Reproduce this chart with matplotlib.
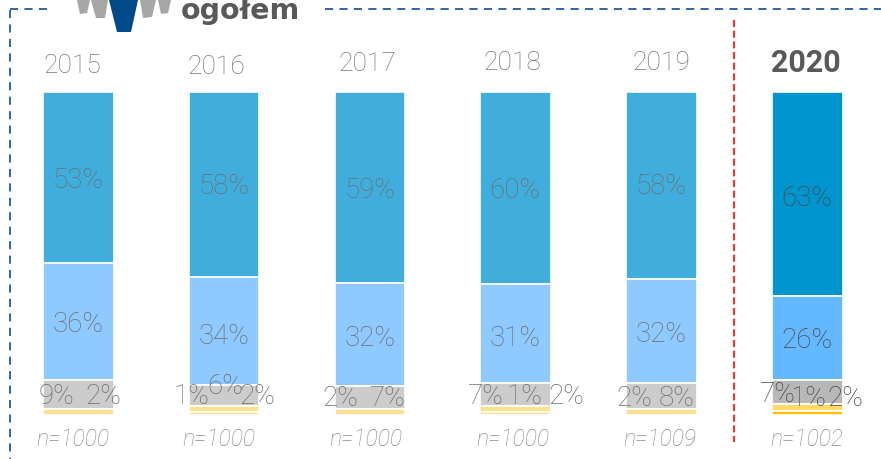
import matplotlib
matplotlib.use("Agg")
import matplotlib.pyplot as plt
from matplotlib.patches import Polygon

plt.rcParams['font.family'] = ['Roboto', 'DejaVu Sans']

years = ["2015", "2016", "2017", "2018", "2019", "2020"]
sizes = ["n=1000", "n=1000", "n=1000", "n=1000", "n=1009", "n=1002"]

# segment heights, top of the bar first
seg1 = [53.0, 57.4, 59.0, 59.5, 58.0, 63.2]
seg2 = [36.2, 33.3, 32.0, 30.7, 32.2, 26.1]
seg3 = [8.9, 6.5, 7.1, 7.0, 7.9, 7.4]
seg4 = [1.9, 1.9, 1.9, 1.9, 1.9, 2.1]
seg5 = [0.0, 0.9, 0.0, 0.9, 0.0, 1.2]

label1 = ["53%", "58%", "59%", "60%", "58%", "63%"]
label2 = ["36%", "34%", "32%", "31%", "32%", "26%"]
# last row of labels, overlapping in the original
low_labels = [["9%", "2%"], ["1%", "6%", "2%"], ["2%", "7%"], ["7%", "1%", "2%"], ["2%", "8%"], ["7%", "1%", "2%"]]
low_x = [[57, 103], [191, 225, 257], [340, 388], [486, 524, 566], [634, 677], [778, 808, 845]]
low_y = [[397, 397], [397, 386, 397], [398, 398], [397, 397, 397], [398, 398], [395, 399, 398]]

W, H = 881, 459
fig = plt.figure(figsize=(W / 100, H / 100), dpi=100)

# bars live on a 0-100 axis with 0 at the top of the bars
ax = fig.add_axes([0, 1 - 415 / H, 1, (415 - 92) / H])
ax.set_xlim(-78.3 / 145.8, (881 - 78.3) / 145.8)
ax.set_ylim(100, 0)
ax.axis("off")

for i in range(6):
    last = i == 5
    colors = [
        "#0095cf" if last else "#40aedd",
        "#64b8ff" if last else "#8ecaff",
        "#b8b8b8" if last else "#cccccc",
        "#ffd966" if last else "#ffe08f",
        "#ffc000" if last else "#ffe08f",
    ]
    bottom = 0
    for seg, c in zip([seg1, seg2, seg3, seg4, seg5], colors):
        if seg[i] > 0:
            ax.bar(i, seg[i], width=0.485, bottom=bottom, color=c, edgecolor="white", linewidth=1.2)
        bottom += seg[i]

# everything else in pixel coordinates
over = fig.add_axes([0, 0, 1, 1])
over.set_xlim(0, W)
over.set_ylim(H, 0)
over.axis("off")
over.patch.set_alpha(0)

over.plot([10, 10], [10, 459], color="#1f5c94", lw=1.3, dashes=(4.5, 3.5))
over.plot([10, 52], [9, 9], color="#1f5c94", lw=1.3, dashes=(4.5, 3.5))
over.plot([325, 881], [9, 9], color="#1f5c94", lw=1.3, dashes=(4.5, 3.5))
over.plot([734, 734], [20, 442], color="#e53935", lw=1.6, dashes=(3.2, 1.6))

# people icon, cut off by the top edge
for pts, c in [
    ([(77, 0), (90, 0), (87, 13), (80, 14)], "#a6a6a6"),
    ([(91, 0), (108, 0), (105, 18), (96, 18)], "#a6a6a6"),
    ([(109, 0), (138, 0), (131, 32), (117, 32)], "#004a8a"),
    ([(140, 0), (156, 0), (152, 17), (143, 18)], "#a6a6a6"),
    ([(158, 0), (171, 0), (168, 13), (161, 14)], "#a6a6a6"),
]:
    over.add_patch(Polygon(pts, closed=True, color=c, lw=0))

over.text(181, 19, "ogołem", fontsize=20.5, fontweight="bold", family="DejaVu Sans", color="#595959", va="baseline", ha="left")

year_y = [66, 67, 64, 63, 63, 63]
for i, x in enumerate([72, 216, 367, 512, 661, 806]):
    if i == 5:
        over.text(x, year_y[i], years[i], fontsize=22, fontweight="bold", color="#595959", ha="center", va="center")
    else:
        over.text(x, year_y[i], years[i], fontsize=19, fontweight="light", color="#777777", ha="center", va="center")

n_x = [73, 219, 366, 513, 660, 807]
for i in range(6):
    over.text(n_x[i], 439, sizes[i], fontsize=16.5, style="italic", fontweight="light", color="#8c8c8c", ha="center", va="center")

top_y = [180, 187, 190, 191, 187, 198]
mid_y = [324, 336, 338, 338, 335, 341]
bar_x = [78, 224, 370, 515, 661, 807]
for i in range(6):
    c = "#4a4a4a" if i == 5 else "#6e6e6e"
    over.text(bar_x[i], top_y[i], label1[i], fontsize=20, fontweight="light", color=c, ha="center", va="center")
    over.text(bar_x[i], mid_y[i], label2[i], fontsize=20, fontweight="light", color=c, ha="center", va="center")
    for t, x, y in zip(low_labels[i], low_x[i], low_y[i]):
        over.text(x, y, t, fontsize=20, fontweight="light", color=c, ha="center", va="center")

fig.savefig("out.png", dpi=100)
